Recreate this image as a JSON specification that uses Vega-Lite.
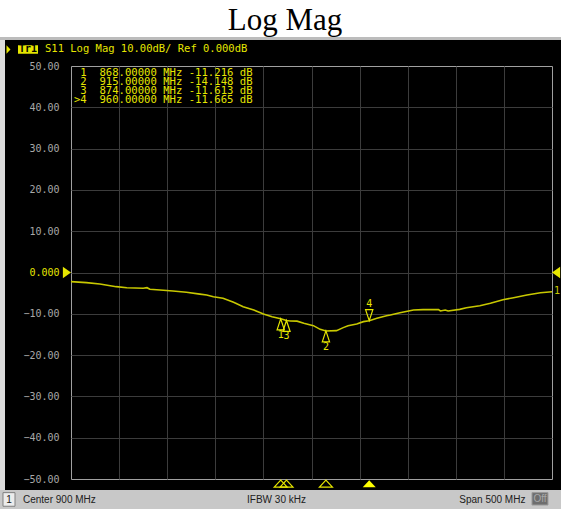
{
  "$schema": "https://vega.github.io/schema/vega-lite/v6.json",
  "width": 481,
  "height": 413,
  "autosize": {"type": "none"},
  "padding": {"left": 71, "top": 66, "right": 9, "bottom": 30},
  "background": "black",
  "config": {
    "view": {"fill": "black", "stroke": "#a0a0a0", "strokeWidth": 1},
    "axis": {"domain": false, "ticks": false}
  },
  "datasets": {
    "trace": [
      {"freq": 650, "db": -2.22}, {"freq": 666, "db": -2.46}, {"freq": 680, "db": -2.78},
      {"freq": 697, "db": -3.43}, {"freq": 708, "db": -3.68}, {"freq": 725, "db": -3.82},
      {"freq": 729, "db": -3.68}, {"freq": 732, "db": -4.07}, {"freq": 746, "db": -4.31},
      {"freq": 756, "db": -4.48}, {"freq": 770, "db": -4.79}, {"freq": 784, "db": -5.24},
      {"freq": 791, "db": -5.45}, {"freq": 798, "db": -5.86}, {"freq": 808, "db": -6.25},
      {"freq": 819, "db": -7.22}, {"freq": 829, "db": -8.28}, {"freq": 840, "db": -9.08},
      {"freq": 850, "db": -10.05}, {"freq": 859, "db": -10.70}, {"freq": 868, "db": -11.22},
      {"freq": 874, "db": -11.61}, {"freq": 878, "db": -11.74}, {"freq": 885, "db": -11.78},
      {"freq": 892, "db": -12.30}, {"freq": 902, "db": -12.87}, {"freq": 909, "db": -13.76},
      {"freq": 915, "db": -14.15}, {"freq": 926, "db": -14.08}, {"freq": 933, "db": -13.35},
      {"freq": 938, "db": -12.87}, {"freq": 947, "db": -12.47}, {"freq": 954, "db": -11.90},
      {"freq": 960, "db": -11.67}, {"freq": 968, "db": -11.10}, {"freq": 978, "db": -10.46},
      {"freq": 982, "db": -10.29}, {"freq": 992, "db": -9.73}, {"freq": 1006, "db": -9.08},
      {"freq": 1016, "db": -9.00}, {"freq": 1032, "db": -9.00}, {"freq": 1034, "db": -9.32},
      {"freq": 1039, "db": -9.08}, {"freq": 1042, "db": -9.32}, {"freq": 1054, "db": -8.92},
      {"freq": 1061, "db": -8.52}, {"freq": 1075, "db": -8.04}, {"freq": 1086, "db": -7.45},
      {"freq": 1099, "db": -6.58}, {"freq": 1110, "db": -6.10}, {"freq": 1124, "db": -5.45},
      {"freq": 1138, "db": -4.89}, {"freq": 1150, "db": -4.65}
    ],
    "markers": [
      {"marker": "1", "freq": 868, "db": -11.216},
      {"marker": "2", "freq": 915, "db": -14.148},
      {"marker": "3", "freq": 874, "db": -11.613},
      {"marker": "4", "freq": 960, "db": -11.665}
    ]
  },
  "layer": [
    {
      "data": {"name": "trace"},
      "mark": {"type": "line", "color": "#c8c800", "strokeWidth": 1.6},
      "encoding": {
        "x": {
          "field": "freq", "type": "quantitative",
          "scale": {"domain": [650, 1150], "nice": false, "zero": false},
          "axis": {"values": [700, 750, 800, 850, 900, 950, 1000, 1050, 1100], "labels": false, "grid": true, "gridColor": "#3c3c3c", "title": null}
        },
        "y": {
          "field": "db", "type": "quantitative",
          "scale": {"domain": [-50, 50], "nice": false, "zero": false},
          "axis": {
            "values": [-50, -40, -30, -20, -10, 0, 10, 20, 30, 40, 50],
            "title": null,
            "grid": true,
            "gridColor": {"condition": {"test": "abs(datum.value) == 50", "value": "rgba(0,0,0,0)"}, "value": "#3c3c3c"},
            "labelExpr": "datum.value == 0 ? '0.000' : format(datum.value, '.2f')",
            "labelFont": "DejaVu Sans Mono",
            "labelFontSize": 10,
            "labelPadding": 12,
            "labelFlush": false,
            "labelOverlap": false,
            "labelColor": {"condition": {"test": "datum.value == 0", "value": "#e6e600"}, "value": "#a8a8a8"}
          }
        }
      }
    },
    {
      "data": {"values": [{}]},
      "mark": {"type": "rect", "fill": "white"},
      "encoding": {"x": {"datum": 560, "type": "quantitative"}, "x2": {"datum": 1170}, "y": {"datum": 72, "type": "quantitative"}, "y2": {"datum": 57.02}}
    },
    {
      "data": {"values": [{}]},
      "mark": {"type": "rect", "fill": "#bcbcbc"},
      "encoding": {"x": {"datum": 560, "type": "quantitative"}, "x2": {"datum": 1170}, "y": {"datum": 57.02, "type": "quantitative"}, "y2": {"datum": 56.3}}
    },
    {
      "data": {"values": [{}]},
      "mark": {"type": "rect", "fill": "#dcdcdc"},
      "encoding": {"x": {"datum": 560, "type": "quantitative"}, "x2": {"datum": 581.4}, "y": {"datum": 56.3, "type": "quantitative"}, "y2": {"datum": -52.66}}
    },
    {
      "data": {"values": [{}]},
      "mark": {"type": "rect", "fill": "#c8c8c8"},
      "encoding": {"x": {"datum": 560, "type": "quantitative"}, "x2": {"datum": 1170}, "y": {"datum": -52.66, "type": "quantitative"}, "y2": {"datum": -60}}
    },
    {
      "data": {"values": [{}]},
      "mark": {"type": "rect", "fill": "#ececec", "stroke": "#808080", "strokeWidth": 1},
      "encoding": {"x": {"datum": 579.3, "type": "quantitative"}, "x2": {"datum": 591.8}, "y": {"datum": -53.3, "type": "quantitative"}, "y2": {"datum": -56.6}}
    },
    {
      "data": {"values": [{}]},
      "mark": {"type": "rect", "fill": "#6e6e6e", "stroke": "#9a9a9a", "strokeWidth": 1},
      "encoding": {"x": {"datum": 1129.2, "type": "quantitative"}, "x2": {"datum": 1145.8}, "y": {"datum": -53.3, "type": "quantitative"}, "y2": {"datum": -56.3}}
    },
    {
      "data": {"values": [{}]},
      "mark": {"type": "text", "text": "1", "font": "Liberation Sans", "fontSize": 10, "color": "#202020", "align": "center", "baseline": "middle"},
      "encoding": {"x": {"datum": 585.5, "type": "quantitative"}, "y": {"datum": -55.0, "type": "quantitative"}}
    },
    {
      "data": {"values": [{}]},
      "mark": {"type": "text", "text": "Center 900 MHz", "font": "Liberation Sans", "fontSize": 10, "color": "#202020", "align": "left", "baseline": "middle"},
      "encoding": {"x": {"datum": 600.1, "type": "quantitative"}, "y": {"datum": -55.0, "type": "quantitative"}}
    },
    {
      "data": {"values": [{}]},
      "mark": {"type": "text", "text": "IFBW 30 kHz", "font": "Liberation Sans", "fontSize": 10, "color": "#202020", "align": "left", "baseline": "middle"},
      "encoding": {"x": {"datum": 833.0, "type": "quantitative"}, "y": {"datum": -55.0, "type": "quantitative"}}
    },
    {
      "data": {"values": [{}]},
      "mark": {"type": "text", "text": "Span 500 MHz", "font": "Liberation Sans", "fontSize": 10, "color": "#202020", "align": "left", "baseline": "middle"},
      "encoding": {"x": {"datum": 1053.6, "type": "quantitative"}, "y": {"datum": -55.0, "type": "quantitative"}}
    },
    {
      "data": {"values": [{}]},
      "mark": {"type": "text", "text": "Off", "font": "Liberation Sans", "fontSize": 10, "color": "#a8a8a8", "align": "center", "baseline": "middle"},
      "encoding": {"x": {"datum": 1137.5, "type": "quantitative"}, "y": {"datum": -54.8, "type": "quantitative"}}
    },
    {
      "data": {"values": [{}]},
      "mark": {"type": "text", "text": "Log Mag", "font": "Liberation Serif", "fontSize": 31, "color": "black", "align": "center", "baseline": "alphabetic"},
      "encoding": {"x": {"datum": 872.5, "type": "quantitative"}, "y": {"datum": 58.72, "type": "quantitative"}}
    },
    {
      "data": {"values": [{}]},
      "mark": {"type": "point", "shape": "M1,0L-1,-2.1L-1,2.1Z", "size": 16, "filled": true, "color": "#e6e600", "opacity": 1},
      "encoding": {"x": {"datum": 585.0, "type": "quantitative"}, "y": {"datum": 54.0, "type": "quantitative"}}
    },
    {
      "data": {"values": [{}]},
      "mark": {"type": "rect", "fill": "#e6e600"},
      "encoding": {"x": {"datum": 594.9, "type": "quantitative"}, "x2": {"datum": 615.7}, "y": {"datum": 55.05, "type": "quantitative"}, "y2": {"datum": 52.95}}
    },
    {
      "data": {"values": [{}]},
      "mark": {"type": "text", "text": "Tr1", "font": "DejaVu Sans Mono", "fontSize": 10, "fontWeight": "bold", "color": "black", "align": "center", "baseline": "middle"},
      "encoding": {"x": {"datum": 605.3, "type": "quantitative"}, "y": {"datum": 54.04, "type": "quantitative"}}
    },
    {
      "data": {"values": [{}]},
      "mark": {"type": "text", "text": "S11 Log Mag 10.00dB/ Ref 0.000dB", "font": "DejaVu Sans Mono", "fontSize": 10.5, "color": "#e6e600", "align": "left", "baseline": "middle"},
      "encoding": {"x": {"datum": 622.97, "type": "quantitative"}, "y": {"datum": 54.04, "type": "quantitative"}}
    },
    {
      "data": {"values": [{}]},
      "mark": {"type": "text", "text": "1\u00a0\u00a0868.00000\u00a0MHz\u00a0-11.216\u00a0dB\n2\u00a0\u00a0915.00000\u00a0MHz\u00a0-14.148\u00a0dB\n3\u00a0\u00a0874.00000\u00a0MHz\u00a0-11.613\u00a0dB\n>4\u00a0\u00a0960.00000\u00a0MHz\u00a0-11.665\u00a0dB", "lineBreak": "\n", "lineHeight": 9.2, "font": "DejaVu Sans Mono", "fontSize": 10.6, "color": "#e6e600", "align": "right", "baseline": "alphabetic"},
      "encoding": {"x": {"datum": 838.7, "type": "quantitative"}, "y": {"datum": 47.65, "type": "quantitative"}}
    },
    {
      "data": {"values": [{}]},
      "mark": {"type": "point", "shape": "M0,0L-1.4,-1L-1.4,1Z", "size": 135, "filled": true, "color": "#e6e600", "opacity": 1},
      "encoding": {"x": {"datum": 650, "type": "quantitative"}, "y": {"datum": 0, "type": "quantitative"}}
    },
    {
      "data": {"values": [{}]},
      "mark": {"type": "point", "shape": "M0,0L1.4,-1L1.4,1Z", "size": 135, "filled": true, "color": "#e6e600", "opacity": 1},
      "encoding": {"x": {"datum": 1150, "type": "quantitative"}, "y": {"datum": 0, "type": "quantitative"}}
    },
    {
      "data": {"values": [{}]},
      "mark": {"type": "text", "text": "1", "font": "DejaVu Sans Mono", "fontSize": 10, "color": "#c8c800", "align": "left", "baseline": "middle", "dx": 2},
      "encoding": {"x": {"datum": 1150, "type": "quantitative"}, "y": {"datum": -4.4, "type": "quantitative"}}
    },
    {
      "data": {"name": "markers"},
      "transform": [{"filter": "datum.marker != '4'"}],
      "mark": {"type": "point", "shape": "M0,0L0.66,2L-0.66,2Z", "size": 121, "filled": false, "color": "#e6e600", "strokeWidth": 1.2, "opacity": 1},
      "encoding": {"x": {"field": "freq", "type": "quantitative"}, "y": {"field": "db", "type": "quantitative"}}
    },
    {
      "data": {"name": "markers"},
      "transform": [{"filter": "datum.marker == '4'"}],
      "mark": {"type": "point", "shape": "M0,0L0.66,-2L-0.66,-2Z", "size": 121, "filled": false, "color": "#e6e600", "strokeWidth": 1.2, "opacity": 1},
      "encoding": {"x": {"field": "freq", "type": "quantitative"}, "y": {"field": "db", "type": "quantitative"}}
    },
    {
      "data": {"name": "markers"},
      "transform": [{"filter": "datum.marker != '4'"}],
      "mark": {"type": "text", "font": "DejaVu Sans Mono", "fontSize": 10, "color": "#e6e600", "align": "center", "baseline": "middle", "dy": 16},
      "encoding": {"x": {"field": "freq", "type": "quantitative"}, "y": {"field": "db", "type": "quantitative"}, "text": {"field": "marker"}}
    },
    {
      "data": {"name": "markers"},
      "transform": [{"filter": "datum.marker == '4'"}],
      "mark": {"type": "text", "font": "DejaVu Sans Mono", "fontSize": 10, "color": "#e6e600", "align": "center", "baseline": "middle", "dy": -16.4},
      "encoding": {"x": {"field": "freq", "type": "quantitative"}, "y": {"field": "db", "type": "quantitative"}, "text": {"field": "marker"}}
    },
    {
      "data": {"name": "markers"},
      "transform": [{"filter": "datum.marker != '4'"}],
      "mark": {"type": "point", "shape": "M0,-1L1.857,1L-1.857,1Z", "size": 49, "filled": false, "color": "#e6e600", "strokeWidth": 1.2, "opacity": 1},
      "encoding": {"x": {"field": "freq", "type": "quantitative"}, "y": {"datum": -51.14, "type": "quantitative"}}
    },
    {
      "data": {"name": "markers"},
      "transform": [{"filter": "datum.marker == '4'"}],
      "mark": {"type": "point", "shape": "M0,-1L1.857,1L-1.857,1Z", "size": 49, "filled": true, "color": "#ffff00", "opacity": 1},
      "encoding": {"x": {"field": "freq", "type": "quantitative"}, "y": {"datum": -51.14, "type": "quantitative"}}
    }
  ]
}
